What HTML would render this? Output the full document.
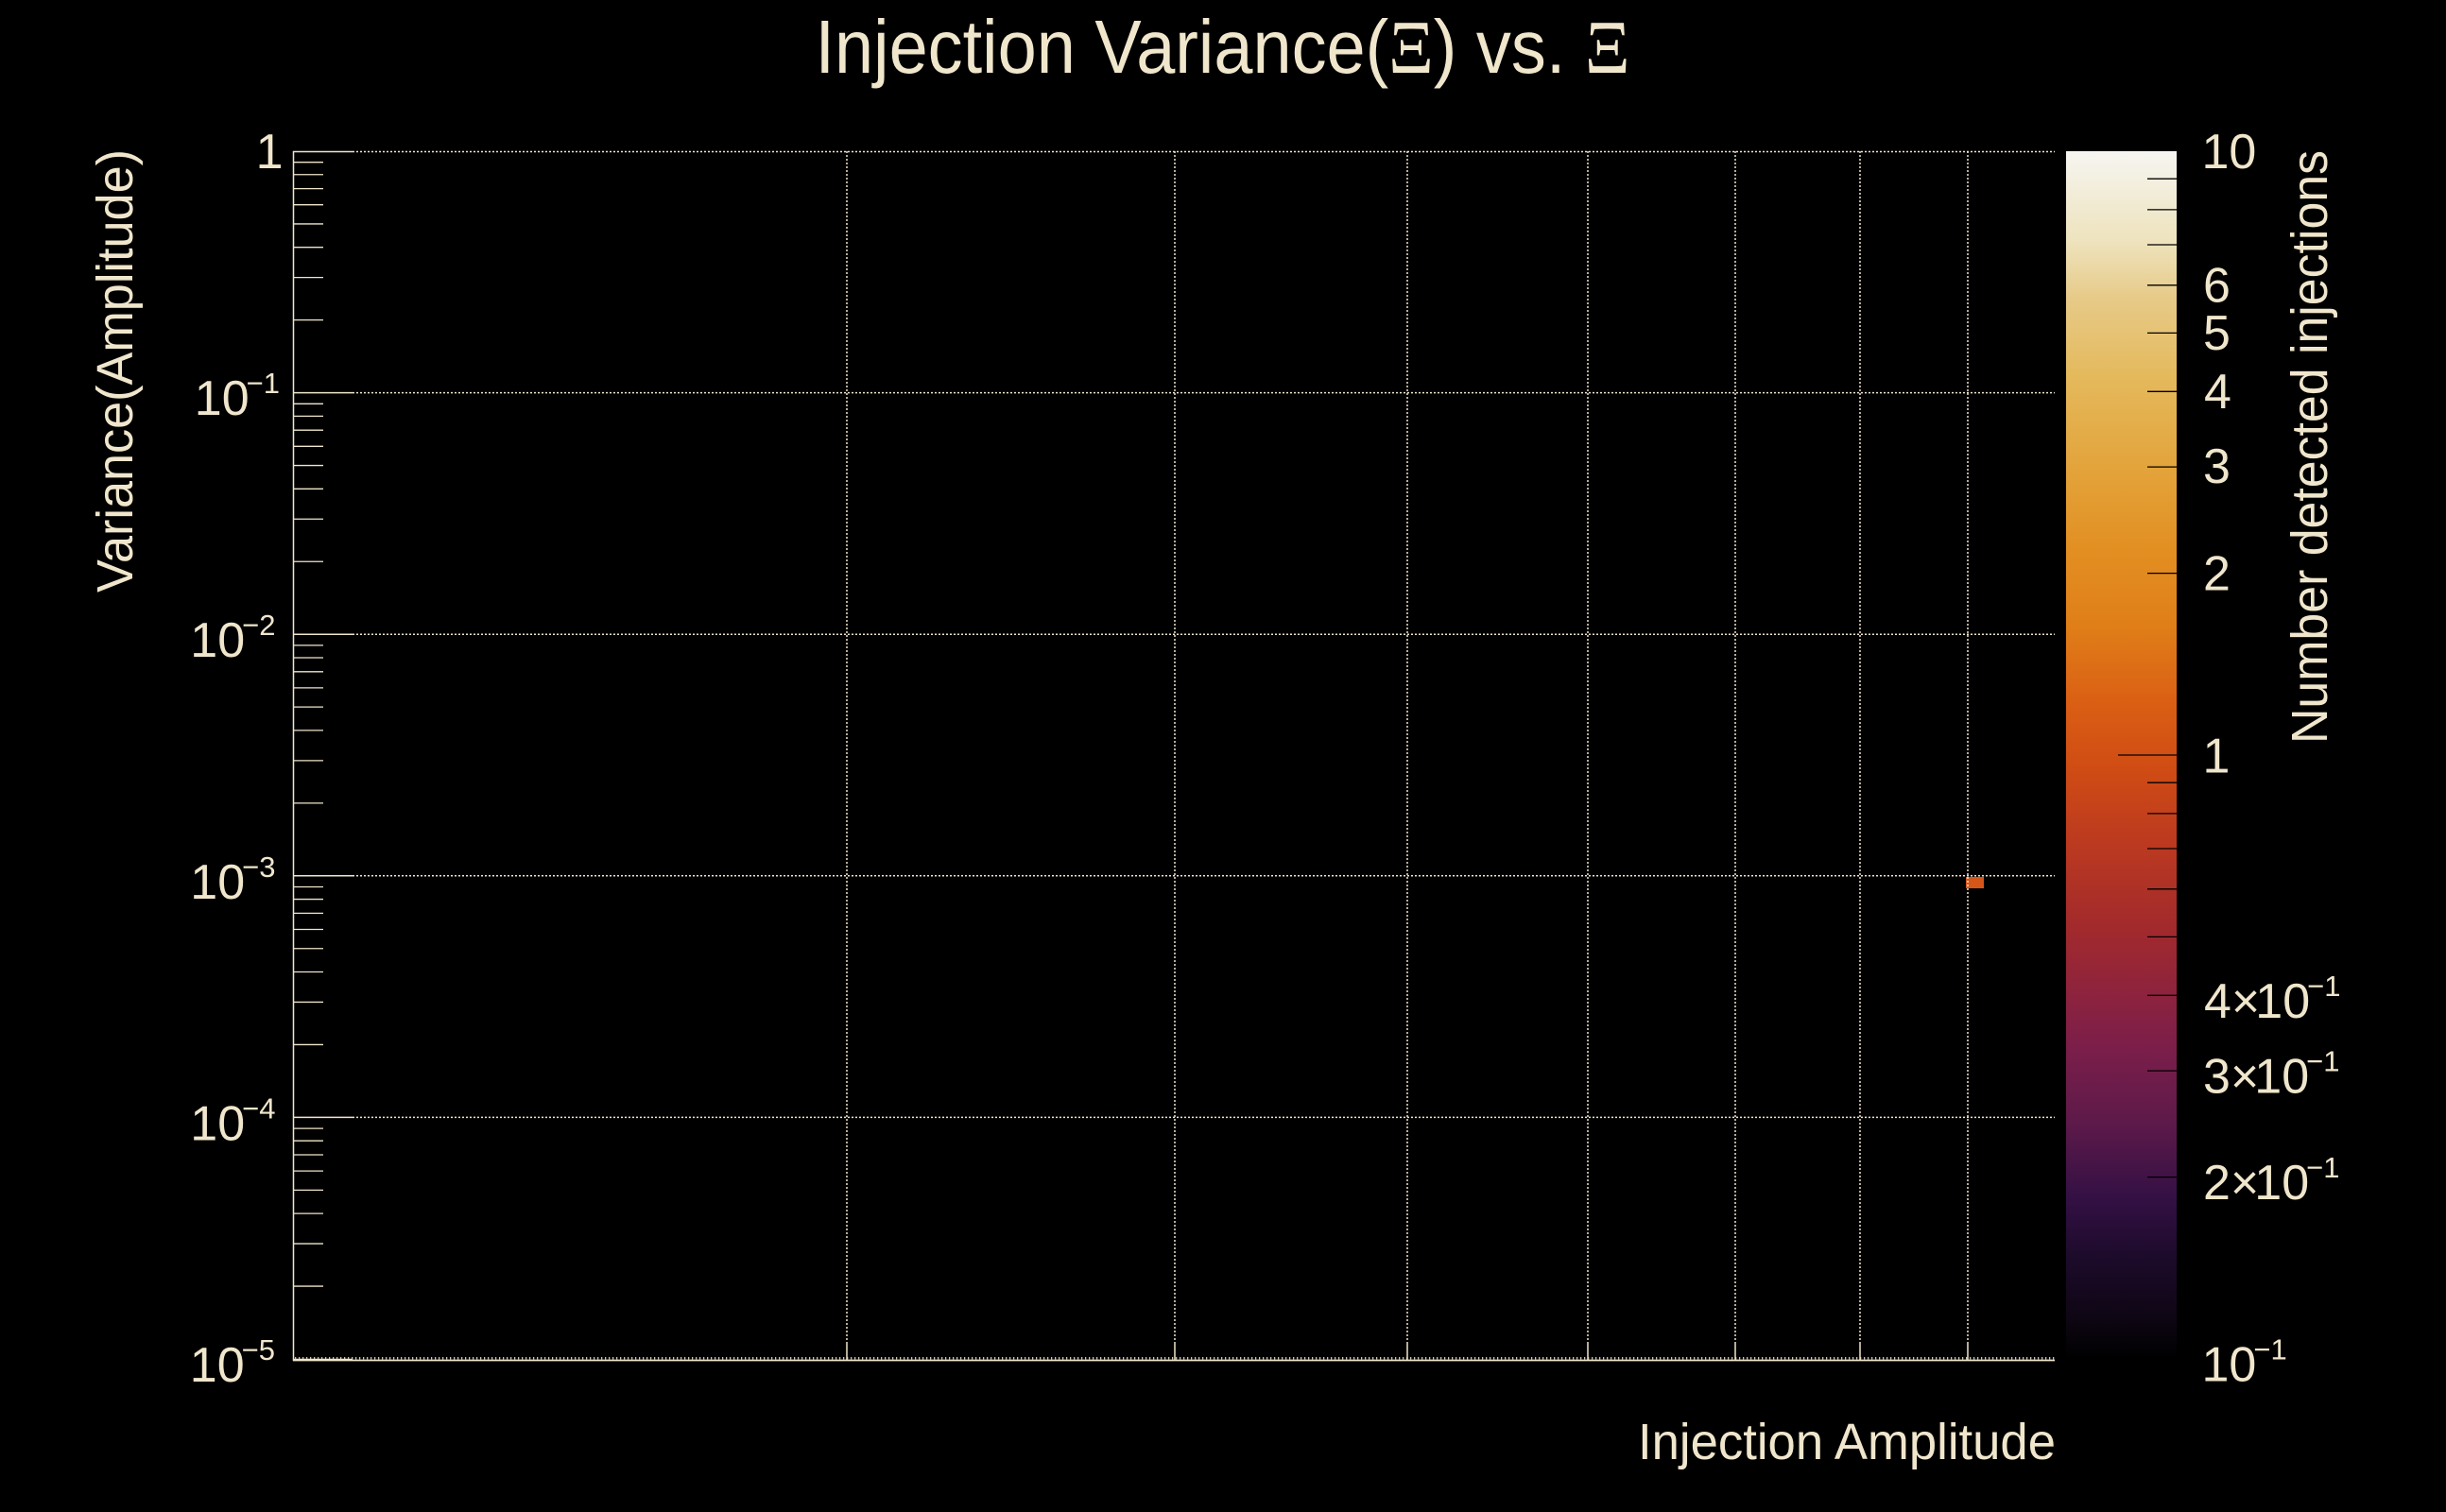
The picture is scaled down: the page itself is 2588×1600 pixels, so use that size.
<!DOCTYPE html>
<html>
<head>
<meta charset="utf-8">
<style>
html,body{margin:0;padding:0;background:#000;}
svg{display:block;}
text{font-family:"Liberation Sans",sans-serif;fill:#f0e6cc;}
</style>
</head>
<body>
<svg width="2588" height="1600" viewBox="0 0 2588 1600" xmlns="http://www.w3.org/2000/svg">
<defs>
<linearGradient id="cb" x1="0" y1="0" x2="0" y2="1">
<stop offset="0" stop-color="#f6f5f1"/>
<stop offset="0.075" stop-color="#eee3bd"/>
<stop offset="0.122" stop-color="#e7ca88"/>
<stop offset="0.187" stop-color="#e4b95c"/>
<stop offset="0.265" stop-color="#e3a33a"/>
<stop offset="0.330" stop-color="#e28f22"/>
<stop offset="0.394" stop-color="#e07e18"/>
<stop offset="0.459" stop-color="#da5e14"/>
<stop offset="0.511" stop-color="#d04c14"/>
<stop offset="0.563" stop-color="#bf3c1e"/>
<stop offset="0.641" stop-color="#a32a2c"/>
<stop offset="0.706" stop-color="#8a2240"/>
<stop offset="0.745" stop-color="#7a1e4a"/>
<stop offset="0.803" stop-color="#5e1a4a"/>
<stop offset="0.868" stop-color="#331044"/>
<stop offset="0.913" stop-color="#1e0b2c"/>
<stop offset="0.966" stop-color="#0e0614"/>
<stop offset="1" stop-color="#000000"/>
</linearGradient>
</defs>
<rect width="2588" height="1600" fill="#000"/>

<!-- Title -->
<text x="862.5" y="77" font-size="80" textLength="862" lengthAdjust="spacingAndGlyphs">Injection Variance(<tspan font-family="Liberation Serif">Ξ</tspan>) vs. <tspan font-family="Liberation Serif">Ξ</tspan></text>

<!-- data bin -->
<rect x="2080" y="928" width="19" height="12" fill="#d6561a"/>

<!-- horizontal grid (dotted) -->
<g stroke="#f0e6cc" stroke-width="1.5" stroke-dasharray="2 2" fill="none">
<line x1="373" y1="160.5" x2="2174" y2="160.5"/>
<line x1="373" y1="415.6" x2="2174" y2="415.6"/>
<line x1="373" y1="671.2" x2="2174" y2="671.2"/>
<line x1="373" y1="926.8" x2="2174" y2="926.8"/>
<line x1="373" y1="1182.4" x2="2174" y2="1182.4"/>
<!-- vertical grid -->
<line x1="896" y1="160" x2="896" y2="1421"/>
<line x1="1243" y1="160" x2="1243" y2="1421"/>
<line x1="1489" y1="160" x2="1489" y2="1421"/>
<line x1="1680" y1="160" x2="1680" y2="1421"/>
<line x1="1836" y1="160" x2="1836" y2="1421"/>
<line x1="1968" y1="160" x2="1968" y2="1421"/>
<line x1="2082" y1="160" x2="2082" y2="1421"/>
</g>

<!-- axes -->
<g stroke="#f0e6cc" fill="none">
<line x1="310.5" y1="160" x2="310.5" y2="1440" stroke-width="1.5"/>
<line x1="310" y1="1439.5" x2="2174" y2="1439.5" stroke-width="1.8"/>
<line x1="312" y1="1437.3" x2="2174" y2="1437.3" stroke-width="2.5" stroke-dasharray="1.3 2.7" opacity="0.85"/>
<!-- x major ticks -->
<path stroke-width="1.5" d="M896 1421V1439M1243 1421V1439M1489 1421V1439M1680 1421V1439M1836 1421V1439M1968 1421V1439M2082 1421V1439"/>
<!-- y major ticks -->
<path stroke-width="1.5" d="M310 160.5H373M310 415.6H373M310 671.2H373M310 926.8H373M310 1182.4H373M310 1438.5H373"/>
<!-- y minor ticks -->
<path stroke-width="1.3" d="
M310 338.66H342M310 293.65H342M310 261.71H342M310 236.94H342M310 216.7H342M310 199.59H342M310 184.77H342M310 171.7H342
M310 594.26H342M310 549.25H342M310 517.31H342M310 492.54H342M310 472.3H342M310 455.19H342M310 440.37H342M310 427.3H342
M310 849.86H342M310 804.85H342M310 772.91H342M310 748.14H342M310 727.9H342M310 710.79H342M310 695.97H342M310 682.9H342
M310 1105.46H342M310 1060.45H342M310 1028.51H342M310 1003.74H342M310 983.5H342M310 966.39H342M310 951.57H342M310 938.5H342
M310 1361.06H342M310 1316.05H342M310 1284.11H342M310 1259.34H342M310 1239.1H342M310 1221.99H342M310 1207.17H342M310 1194.1H342"/>
</g>

<!-- y tick labels -->
<g font-size="52" text-anchor="end">
<text x="299.5" y="178">1</text>
<text x="296" y="439">10<tspan dx="-3" dy="-23" font-size="31">−1</tspan></text>
<text x="291.5" y="695">10<tspan dx="-3" dy="-23" font-size="31">−2</tspan></text>
<text x="291.5" y="951">10<tspan dx="-3" dy="-23" font-size="31">−3</tspan></text>
<text x="291.5" y="1206.5">10<tspan dx="-3" dy="-23" font-size="31">−4</tspan></text>
<text x="291" y="1462">10<tspan dx="-3" dy="-23" font-size="31">−5</tspan></text>
</g>

<!-- axis titles -->
<text x="1733" y="1544" font-size="54" textLength="442" lengthAdjust="spacingAndGlyphs">Injection Amplitude</text>
<text transform="translate(140,627) rotate(-90)" x="0" y="0" font-size="54" textLength="469" lengthAdjust="spacingAndGlyphs">Variance(Amplitude)</text>

<!-- colour bar -->
<rect x="2186" y="160" width="117" height="1278" fill="url(#cb)"/>
<g stroke="#000" stroke-width="1.3" fill="none">
<path d="M2272 189.2H2303M2272 221.9H2303M2272 259H2303M2272 301.8H2303M2272 352.4H2303M2272 414.3H2303M2272 494.1H2303M2272 606.6H2303
M2241 799H2303
M2272 828.2H2303M2272 860.9H2303M2272 898H2303M2272 940.8H2303M2272 991.4H2303M2272 1053.3H2303M2272 1133.1H2303M2272 1245.6H2303"/>
</g>

<!-- colour bar labels -->
<g font-size="52">
<text x="2329.5" y="178">10</text>
<text x="2331" y="319.5">6</text>
<text x="2331" y="370">5</text>
<text x="2332" y="432">4</text>
<text x="2331" y="511">3</text>
<text x="2331" y="624.5">2</text>
<text x="2330.5" y="817.5">1</text>
<text x="2332" y="1077">4<tspan>×</tspan><tspan dx="-5">10</tspan><tspan dx="-3" dy="-23" font-size="31">−1</tspan></text>
<text x="2331" y="1156.7">3<tspan>×</tspan><tspan dx="-5">10</tspan><tspan dx="-3" dy="-23" font-size="31">−1</tspan></text>
<text x="2331" y="1269">2<tspan>×</tspan><tspan dx="-5">10</tspan><tspan dx="-3" dy="-23" font-size="31">−1</tspan></text>
<text x="2329.5" y="1461.7">10<tspan dx="-3" dy="-23" font-size="31">−1</tspan></text>
</g>

<text transform="translate(2462,787) rotate(-90)" x="0" y="0" font-size="54" textLength="628" lengthAdjust="spacingAndGlyphs">Number detected injections</text>
</svg>
</body>
</html>
